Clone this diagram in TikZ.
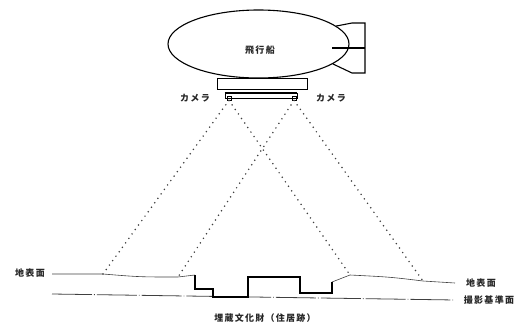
\documentclass[tikz,border=0pt]{standalone}
\usepackage{fontspec}
\usetikzlibrary{shapes.geometric}
\newfontfamily\jpfont[LetterSpace=14]{Noto Sans CJK JP}
\begin{document}
\begin{tikzpicture}[x=1pt,y=-1pt,
  lbl/.style={font=\jpfont\bfseries\fontsize{9}{10}\selectfont, inner sep=1pt, text=black!85},
  body/.style={line width=1.1pt},
  ray/.style={line width=1.7pt, dash pattern=on 0pt off 5.5pt, line cap=round, black!75},
  ground/.style={line width=0.6pt, black!75},
  site/.style={line width=1.6pt, line join=miter},
  refplane/.style={line width=0.8pt, black!75, dash pattern=on 40pt off 2pt on 0.8pt off 2pt}]
\useasboundingbox (0,0) rectangle (530,327);

% airship envelope, tail fins and gondola
\node[body, draw, ellipse, minimum width=181pt, minimum height=68pt, inner sep=0pt] (ship) at (258.5,44) {};
\node[lbl] (shiplbl) at (260,50) {飛行船};
\draw[body, line join=miter] (ship.13) -- (352,23) -- (365,23) -- (365,73) -- (352,73) -- (ship.-15);
\draw[body] (332,48) -- (365,48);
\node[draw, line width=0.6pt, minimum width=90pt, minimum height=11pt, inner sep=0pt, anchor=north] (gondola) at (262,78) {};

% camera mount with the two cameras
\node[draw, line width=0.8pt, minimum width=72pt, minimum height=5pt, inner sep=0pt] (mount) at (261,96) {};
\draw[line width=1.8pt] (mount.north west) -- (mount.north east);
\node[draw, line width=0.8pt, minimum size=4pt, inner sep=0pt] (camL) at (229,98) {};
\node[draw, line width=0.8pt, minimum size=4pt, inner sep=0pt] (camR) at (294,98) {};
\node[lbl] (camLlbl) at (195,98) {カメラ};
\node[lbl] (camRlbl) at (331,98) {カメラ};

% ground points hit by the camera rays
\coordinate (gL1) at (103,274);
\coordinate (gL2) at (178,277);
\coordinate (gR1) at (350,275);
\coordinate (gR2) at (423,281);
\draw[ray] (camL.south) -- (gL1);
\draw[ray] (camL.south) -- (gR1);
\draw[ray] (camR.south) -- (gL2);
\draw[ray] (camR.south) -- (gR2);

% reference plane
\coordinate (refA) at (52,294);
\coordinate (refB) at (455,300);
\draw[refplane] (refA) -- (refB);

% ground surface
\draw[ground] (52,274) -- (gL1) .. controls (140,277) .. (gL2) -- (195,275);
\draw[ground] (332,282) -- (gR1) .. controls (390,277) .. (gR2) -- (455,283);

% buried dwelling site outline
\draw[site] (195,275) -- (195,289) -- (213,289) -- (213,297) -- (248,297) -- (248,277)
  -- (300,277) -- (300,293) -- (332,293) -- (332,282);

% labels
\node[lbl] (gsL) at (30,273) {地表面};
\node[lbl] (gsR) at (481,283) {地表面};
\node[lbl] (refR) at (489,300) {撮影基準面};
\node[lbl] (sitelbl) at (265,318) {埋蔵文化財（住居跡）};
\end{tikzpicture}
\end{document}
